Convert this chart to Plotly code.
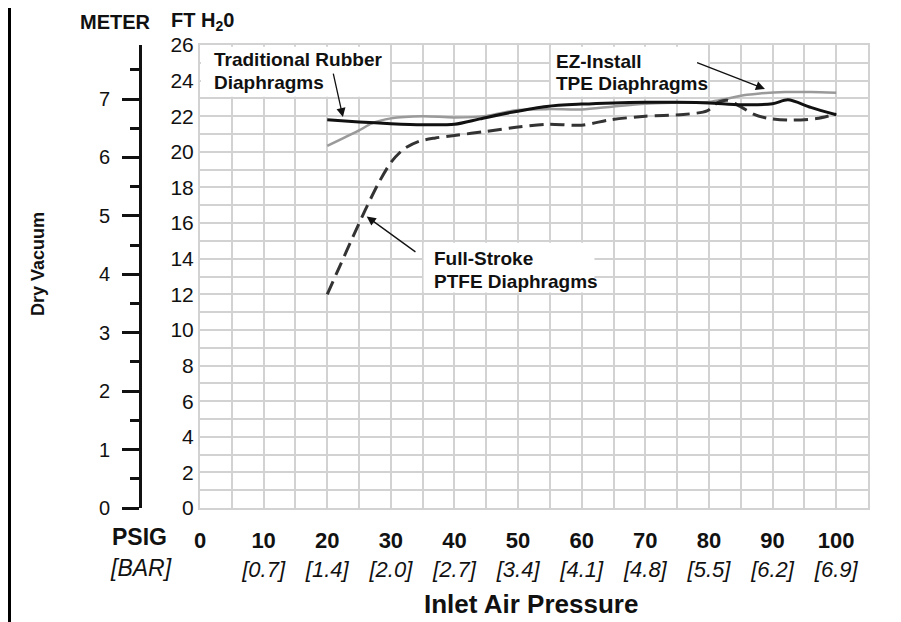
import plotly.graph_objects as go

# ---------------- data ----------------
psig_ticks = [0, 10, 20, 30, 40, 50, 60, 70, 80, 90, 100]
bar_labels = ["", "[0.7]", "[1.4]", "[2.0]", "[2.7]", "[3.4]", "[4.1]", "[4.8]", "[5.5]", "[6.2]", "[6.9]"]
ft_ticks = [0, 2, 4, 6, 8, 10, 12, 14, 16, 18, 20, 22, 24, 26]
meter_ticks = [0, 1, 2, 3, 4, 5, 6, 7]
FT_PER_M = 3.28084

rubber_x = [20, 25, 30, 35, 40, 44, 49, 54.5, 60, 65, 70, 75, 80, 85, 90, 92.4, 96, 100]
rubber_y = [21.8, 21.68, 21.58, 21.52, 21.55, 21.85, 22.22, 22.55, 22.68, 22.75, 22.78, 22.78, 22.75, 22.65, 22.7, 22.92, 22.5, 22.08]

tpe_x = [20, 25, 27, 30, 35, 40, 45, 50, 55, 60, 65, 70, 75, 80, 83, 86, 88, 92, 96, 100]
tpe_y = [20.33, 21.2, 21.6, 21.88, 22.0, 21.93, 22.02, 22.35, 22.4, 22.38, 22.55, 22.7, 22.76, 22.8, 23.0, 23.2, 23.28, 23.36, 23.36, 23.32]

ptfe_x = [20, 22, 24, 26, 28, 30, 32, 34.5, 37, 40, 45, 50, 54.5, 60, 64.5, 70, 76, 79.7, 81.3, 82.8, 84.9, 87, 89.3, 92.7, 96.9, 100]
ptfe_y = [12.0, 13.6, 15.2, 16.75, 18.2, 19.4, 20.15, 20.6, 20.78, 20.92, 21.15, 21.4, 21.55, 21.5, 21.8, 22.0, 22.1, 22.3, 22.75, 22.9, 22.55, 22.12, 21.88, 21.78, 21.87, 22.12]

# ---------------- style ----------------
FONT = "Liberation Sans, Arial, sans-serif"
GRID = "#d2d2d2"
INK = "#111111"

fig = go.Figure()

fig.add_trace(go.Scatter(x=tpe_x, y=tpe_y, mode="lines", name="EZ-Install TPE Diaphragms",
                         line=dict(color="#9a9a9a", width=2.5, shape="spline", smoothing=0.8)))
fig.add_trace(go.Scatter(x=ptfe_x, y=ptfe_y, mode="lines", name="Full-Stroke PTFE Diaphragms",
                         line=dict(color="#333333", width=3, dash="14px,7px", shape="spline", smoothing=0.8)))
fig.add_trace(go.Scatter(x=rubber_x, y=rubber_y, mode="lines", name="Traditional Rubber Diaphragms",
                         line=dict(color=INK, width=3, shape="spline", smoothing=0.8)))
# empty trace binding the metre axis
fig.add_trace(go.Scatter(x=[], y=[], yaxis="y2", showlegend=False, hoverinfo="skip"))

tick_text = [f"<b>{p}</b>" + (f"<br><i>{b}</i>" if b else "") for p, b in zip(psig_ticks, bar_labels)]

# the page body adds 8px around the figure; margins compensate so the plot area lands at 200..868 x 45..508
fig.update_layout(
    width=901, height=622,
    margin=dict(l=92, r=41, t=37, b=122),
    paper_bgcolor="white", plot_bgcolor="white",
    showlegend=False,
    font=dict(family=FONT, color=INK),
    xaxis=dict(
        range=[0, 105], domain=[100 / 768, 1],
        tickmode="array", tickvals=psig_ticks, ticktext=tick_text,
        tickfont=dict(size=22, family=FONT, color=INK),
        ticks="", ticklabelstandoff=12,
        showgrid=True, gridcolor=GRID, gridwidth=2,
        minor=dict(dtick=5, tick0=0, showgrid=True, gridcolor=GRID, gridwidth=2),
        showline=True, linecolor=GRID, linewidth=2, mirror=True, zeroline=False,
    ),
    yaxis=dict(
        range=[0, 26], tickmode="array", tickvals=ft_ticks,
        tickfont=dict(size=21, family=FONT, color=INK),
        ticks="", ticklabelstandoff=0,
        showgrid=True, gridcolor=GRID, gridwidth=2,
        minor=dict(dtick=1, tick0=0, showgrid=True, gridcolor=GRID, gridwidth=2),
        showline=True, linecolor=GRID, linewidth=2, mirror=True, zeroline=False,
    ),
    yaxis2=dict(
        overlaying="y", anchor="free", position=40 / 768, side="left",
        range=[0, 26 / FT_PER_M], tickmode="array", tickvals=meter_ticks,
        tickfont=dict(size=20, family=FONT, color=INK),
        ticks="outside", ticklen=17, tickwidth=3, tickcolor=INK,
        minor=dict(dtick=0.5, tick0=0, ticks="outside", ticklen=9, tickwidth=3, tickcolor=INK, showgrid=False),
        ticklabelstandoff=8,
        showline=True, linecolor=INK, linewidth=3, showgrid=False, zeroline=False,
    ),
)

# white boxes behind the curve labels
for x0, x1, y0, y1 in [(0.15, 29.85, 23.1, 25.9), (55.15, 79.85, 23.1, 25.9), (35.15, 62.0, 12.1, 14.9)]:
    fig.add_shape(type="rect", xref="x", yref="y", x0=x0, x1=x1, y0=y0, y1=y1,
                  fillcolor="white", line=dict(width=0), layer="above")

# left edge frame fragments (figure px -> paper)
def px(fx):
    return (fx - 92) / 768

def py(fy):
    return (500 - fy) / 463

fig.add_shape(type="line", xref="paper", yref="paper", x0=px(1.5), x1=px(1.5),
              y0=py(0), y1=py(622), line=dict(color="black", width=3))
fig.add_shape(type="line", xref="paper", yref="paper", x0=px(0), x1=px(3),
              y0=py(67), y1=py(67), line=dict(color="black", width=3))

def fmt(s, bold, italic):
    if bold:
        s = f"<b>{s}</b>"
    if italic:
        s = f"<i>{s}</i>"
    return s

def txt(x, y, s, size=19, bold=True, italic=False, xanchor="left", angle=0):
    fig.add_annotation(x=x, y=y, xref="x", yref="y", text=fmt(s, bold, italic), showarrow=False,
                       xanchor=xanchor, yanchor="middle", textangle=angle,
                       font=dict(family=FONT, size=size, color=INK))

def ptxt(x, y, s, size=20, bold=True, italic=False, angle=0):
    fig.add_annotation(x=x, y=y, xref="paper", yref="paper", text=fmt(s, bold, italic), showarrow=False,
                       xanchor="center", yanchor="middle", textangle=angle,
                       font=dict(family=FONT, size=size, color=INK))

# curve labels
txt(1.9, 25.16, "Traditional Rubber")
txt(1.9, 23.87, "Diaphragms")
txt(55.6, 25.07, "EZ-Install")
txt(55.6, 23.84, "TPE Diaphragms")
txt(36.4, 14.02, "Full-Stroke")
txt(36.4, 12.71, "PTFE Diaphragms")

# axis captions (paper coords; plot area spans screen 100..868 / 45..508 in paper terms)
ptxt(0.0208, 1.0500, "METER", size=20)
ptxt(0.1335, 1.0500, "FT H<sub>2</sub>0", size=20)
ptxt(0.0508, -0.0633, "PSIG", size=23)
ptxt(0.0534, -0.1296, "[BAR]", size=23, bold=False, italic=True)
ptxt(-0.0807, 0.527, "Dry Vacuum", size=18, angle=-90)
ptxt(0.5612, -0.2073, "Inlet Air Pressure", size=26)

# arrows
for (hx, hy, tx, ty) in [(22.47, 21.95, 20.9, 24.48), (88.8, 23.53, 77.9, 25.04), (26.2, 16.37, 34.1, 14.32)]:
    fig.add_annotation(x=hx, y=hy, ax=tx, ay=ty, xref="x", yref="y", axref="x", ayref="y",
                       text="", showarrow=True, arrowhead=2, arrowsize=1.4, arrowwidth=1.3,
                       arrowcolor=INK, standoff=0)

fig.write_html("out.html")
